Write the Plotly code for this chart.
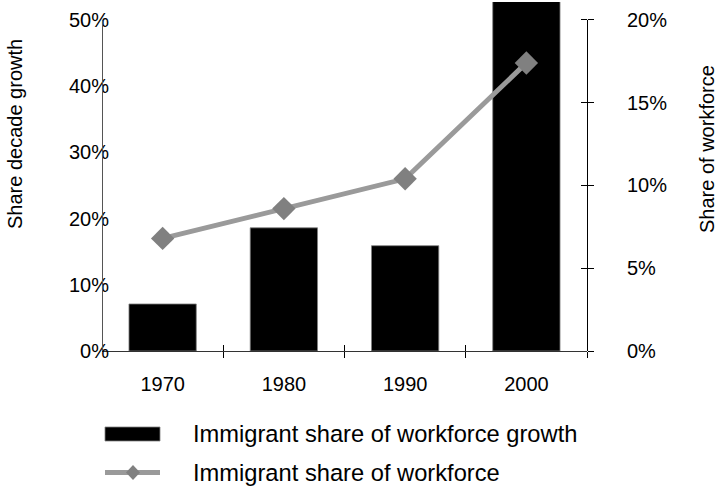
import plotly.graph_objects as go

# ---- data ----
years = [1970, 1980, 1990, 2000]
year_labels = ["1970", "1980", "1990", "2000"]
growth_share = [0.071, 0.186, 0.159, 0.55]      # left axis (bars)
workforce_share = [0.068, 0.086, 0.104, 0.174]  # right axis (line)
left_ticks = [0, 0.1, 0.2, 0.3, 0.4, 0.5]
right_ticks = [0, 0.05, 0.10, 0.15, 0.20]
boundary_ticks = [1975, 1985, 1995, 2005]
series_names = ["Immigrant share of workforce growth", "Immigrant share of workforce"]
left_title = "Share decade growth"
right_title = "Share of workforce"

# ---- layout constants ----
FONT = "Liberation Sans, Arial, sans-serif"
W, H = 719, 488
ML, MR, MT, MB = 102, 132, 2, 137
LEFT_TOP = 0.527
RIGHT_TOP = LEFT_TOP * 0.4
XR = [1965, 2005]
PW = W - ML - MR
PH = H - MT - MB


def px_x(p):
    return (p - ML) / PW


def px_y(p):
    return (H - MB - p) / PH


fig = go.Figure()
fig.add_trace(go.Bar(
    x=years, y=growth_share, width=5.55, name=series_names[0],
    marker=dict(color="black", line=dict(color="#808080", width=0.8)),
    xaxis="x", yaxis="y", showlegend=False,
))
fig.add_trace(go.Scatter(
    x=years, y=workforce_share, name=series_names[1], mode="lines+markers",
    line=dict(color="#9a9a9a", width=5),
    marker=dict(symbol="diamond", size=18, color="#808080"),
    xaxis="x", yaxis="y2", showlegend=False, cliponaxis=False,
))

# invisible helper traces so the tick-only overlay axes get drawn
for xa, ya in [("x2", "y"), ("x3", "y"), ("x", "y3")]:
    fig.add_trace(go.Scatter(
        x=[years[0]], y=[0], xaxis=xa, yaxis=ya, mode="markers",
        marker=dict(opacity=0, size=1), showlegend=False, hoverinfo="skip",
    ))

tickfont = dict(family=FONT, size=20, color="black")

shapes = [
    # left axis line (0% to 50%)
    dict(type="line", xref="paper", yref="y", x0=px_x(102.5), x1=px_x(102.5),
         y0=0, y1=0.5, line=dict(color="#555555", width=1)),
    # right axis line (0% to 20%)
    dict(type="line", xref="paper", yref="y2", x0=px_x(587.5), x1=px_x(587.5),
         y0=0, y1=0.2, line=dict(color="black", width=1)),
    # legend: bar symbol
    dict(type="rect", xref="paper", yref="paper",
         x0=px_x(105), x1=px_x(160), y0=px_y(441), y1=px_y(427),
         fillcolor="black", line=dict(color="#808080", width=0.8)),
    # legend: line symbol
    dict(type="line", xref="paper", yref="paper",
         x0=px_x(105), x1=px_x(160), y0=px_y(472.5), y1=px_y(472.5),
         line=dict(color="#9a9a9a", width=5)),
    # legend: diamond
    dict(type="path", xref="paper", yref="paper",
         path="M {a},{b} L {c},{d} L {e},{b} L {c},{f} Z".format(
             a=px_x(126), b=px_y(472.5), c=px_x(133), d=px_y(465),
             e=px_x(140), f=px_y(480)),
         fillcolor="#808080", line=dict(color="#808080", width=0)),
]

annotations = [
    dict(text=left_title, xref="paper", yref="paper", x=px_x(15), y=px_y(134),
         textangle=-90, showarrow=False, xanchor="center", yanchor="middle",
         font=dict(family=FONT, size=20, color="black")),
    dict(text=right_title, xref="paper", yref="paper", x=px_x(707), y=px_y(149),
         textangle=-90, showarrow=False, xanchor="center", yanchor="middle",
         font=dict(family=FONT, size=20, color="black")),
    dict(text=series_names[0], xref="paper", yref="paper", x=px_x(191), y=px_y(434),
         showarrow=False, xanchor="left", yanchor="middle",
         font=dict(family=FONT, size=23.7, color="black")),
    dict(text=series_names[1], xref="paper", yref="paper", x=px_x(191), y=px_y(473),
         showarrow=False, xanchor="left", yanchor="middle",
         font=dict(family=FONT, size=23.7, color="black")),
]

tick_only = dict(showticklabels=False, showgrid=False, zeroline=False,
                 showline=False, tickcolor="black", tickwidth=1, ticklen=6)

fig.update_layout(
    width=W, height=H,
    margin=dict(l=ML, r=MR, t=MT, b=MB, pad=0),
    paper_bgcolor="white", plot_bgcolor="white",
    font=dict(family=FONT, size=20, color="black"),
    showlegend=False,
    xaxis=dict(range=XR, tickvals=years, ticktext=year_labels, ticks="",
               showline=True, linecolor="#333333", linewidth=1,
               showgrid=False, zeroline=False, tickfont=tickfont,
               ticklabelstandoff=15),
    xaxis2=dict(overlaying="x", anchor="y", side="bottom", range=XR,
                tickvals=boundary_ticks, ticks="outside", **tick_only),
    xaxis3=dict(overlaying="x", anchor="y", side="bottom", range=XR,
                tickvals=boundary_ticks, ticks="inside", **tick_only),
    yaxis=dict(range=[0, LEFT_TOP], tickvals=left_ticks, tickformat=".0%",
               ticks="", showline=False, showgrid=False, zeroline=False,
               tickfont=tickfont, ticklabelstandoff=-8),
    yaxis2=dict(overlaying="y", side="right", anchor="x", range=[0, RIGHT_TOP],
                tickvals=right_ticks, tickformat=".0%", ticks="outside",
                ticklen=6, tickcolor="black", tickwidth=1, showline=False,
                showgrid=False, zeroline=False, tickfont=tickfont,
                ticklabelstandoff=29),
    yaxis3=dict(overlaying="y", side="right", anchor="x", range=[0, RIGHT_TOP],
                tickvals=right_ticks, ticks="inside", **tick_only),
    shapes=shapes,
    annotations=annotations,
)

fig.write_html("out.html")
